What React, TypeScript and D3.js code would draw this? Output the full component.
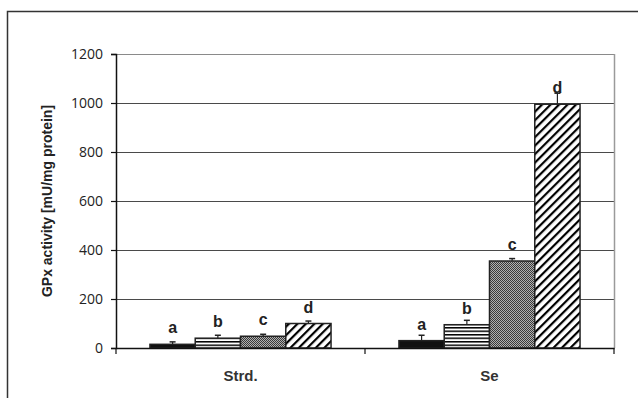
import React, { useEffect, useRef } from "react";
import * as d3 from "d3";

// chart data
const groups = ["Strd.", "Se"];
const treatments = ["t1", "t2", "t3", "t4"];
const letters = ["a", "b", "c", "d"];
const strdValues = [15, 40, 48, 100];
const strdErrors = [10, 12, 8, 10];
const seValues = [30, 95, 355, 995];
const seErrors = [22, 18, 10, 45];
const yTicks = [0, 200, 400, 600, 800, 1000, 1200];

const App = () => {
  const ref = useRef<SVGSVGElement>(null);

  useEffect(() => {
    document.body.style.margin = "0";
    const width = 638;
    const height = 398;
    const margin = { top: 54, right: 24, bottom: 50, left: 116 };
    const innerWidth = width - margin.left - margin.right;
    const innerHeight = height - margin.top - margin.bottom;

    const svg = d3.select(ref.current).attr("width", width).attr("height", height);
    svg.selectAll("*").remove();

    // patterns for the four treatments
    const defs = svg.append("defs");
    const stripes = defs.append("pattern").attr("id", "p-stripes")
      .attr("patternUnits", "userSpaceOnUse").attr("width", 4).attr("height", 3.5);
    stripes.append("rect").attr("width", 4).attr("height", 3.5).attr("fill", "#fff");
    stripes.append("rect").attr("width", 4).attr("height", 1.5).attr("fill", "#000");

    const dots = defs.append("pattern").attr("id", "p-dots")
      .attr("patternUnits", "userSpaceOnUse").attr("width", 2).attr("height", 2);
    dots.append("rect").attr("width", 2).attr("height", 2).attr("fill", "#b0b0b0");
    dots.append("rect").attr("width", 1).attr("height", 1).attr("fill", "#3a3a3a");
    dots.append("rect").attr("x", 1).attr("y", 1).attr("width", 1).attr("height", 1).attr("fill", "#3a3a3a");

    const hatch = defs.append("pattern").attr("id", "p-hatch")
      .attr("patternUnits", "userSpaceOnUse").attr("width", 6).attr("height", 6)
      .attr("patternTransform", "rotate(45)");
    hatch.append("rect").attr("width", 6).attr("height", 6).attr("fill", "#fff");
    hatch.append("rect").attr("width", 2.2).attr("height", 6).attr("fill", "#000");

    const fills = ["#111", "url(#p-stripes)", "url(#p-dots)", "url(#p-hatch)"];

    // outer frame (left and top edges visible)
    svg.append("path").attr("d", `M7.5,${height} V11.5 H${width}`)
      .attr("fill", "none").attr("stroke", "#333").attr("stroke-width", 1.5);

    const g = svg.append("g").attr("transform", `translate(${margin.left},${margin.top})`);

    const x0 = d3.scaleBand().domain(groups).range([0, innerWidth]);
    const x1 = d3.scaleBand().domain(treatments)
      .range([0, x0.bandwidth()]).paddingOuter(0.75).paddingInner(0);
    const y = d3.scaleLinear().domain([0, 1200]).range([innerHeight, 0]);

    // gridlines
    g.selectAll(".grid").data(yTicks.slice(1)).join("line").attr("class", "grid")
      .attr("x1", 0).attr("x2", innerWidth)
      .attr("y1", d => Math.round(y(d)) + 0.5).attr("y2", d => Math.round(y(d)) + 0.5)
      .attr("stroke", d => (d === 1200 ? "#8a8a8a" : "#4a4a4a")).attr("stroke-width", 1);
    g.append("line").attr("x1", innerWidth + 0.5).attr("x2", innerWidth + 0.5)
      .attr("y1", y(1200)).attr("y2", innerHeight)
      .attr("stroke", "#9a9a9a").attr("stroke-width", 1.5);

    const rows = groups.map((grp, gi) => {
      const vals = gi === 0 ? strdValues : seValues;
      const errs = gi === 0 ? strdErrors : seErrors;
      return treatments.map((t, i) => ({ grp, t, i, v: vals[i], e: errs[i] }));
    }).flat();

    // error bars (drawn behind the bars, upward only)
    const eb = g.selectAll(".err").data(rows).join("g").attr("class", "err");
    eb.append("line")
      .attr("x1", d => x0(d.grp)! + x1(d.t)! + x1.bandwidth() / 2)
      .attr("x2", d => x0(d.grp)! + x1(d.t)! + x1.bandwidth() / 2)
      .attr("y1", d => y(d.v)).attr("y2", d => y(d.v + d.e))
      .attr("stroke", "#222").attr("stroke-width", 1.2);
    eb.append("line")
      .attr("x1", d => x0(d.grp)! + x1(d.t)! + x1.bandwidth() / 2 - 3)
      .attr("x2", d => x0(d.grp)! + x1(d.t)! + x1.bandwidth() / 2 + 3)
      .attr("y1", d => y(d.v + d.e)).attr("y2", d => y(d.v + d.e))
      .attr("stroke", "#222").attr("stroke-width", 1.5);

    // bars
    g.selectAll(".bar").data(rows).join("rect").attr("class", "bar")
      .attr("x", d => x0(d.grp)! + x1(d.t)!)
      .attr("y", d => y(d.v))
      .attr("width", x1.bandwidth())
      .attr("height", d => innerHeight - y(d.v))
      .attr("fill", d => fills[d.i])
      .attr("stroke", "#222").attr("stroke-width", 1.5);

    // significance letters
    g.selectAll(".lbl").data(rows).join("text").attr("class", "lbl")
      .attr("x", d => x0(d.grp)! + x1(d.t)! + x1.bandwidth() / 2)
      .attr("y", d => y(d.v) - 11)
      .attr("text-anchor", "middle")
      .style("font-family", "'Liberation Sans', Arial, sans-serif")
      .style("font-weight", "bold").style("font-size", "16px").attr("fill", "#222")
      .text(d => letters[d.i]);

    // y axis
    const yAxis = g.append("g")
      .call(d3.axisLeft(y).tickValues(yTicks).tickFormat(d3.format("d")).tickSize(5).tickPadding(8));
    yAxis.select(".domain").attr("stroke", "#111").attr("stroke-width", 1.5);
    yAxis.selectAll(".tick line").attr("stroke", "#111").attr("stroke-width", 1.2);
    yAxis.selectAll(".tick text").style("font-family", "'Open Sans', sans-serif")
      .style("font-size", "14px").attr("fill", "#222");

    // x axis
    const xAxis = g.append("g").attr("transform", `translate(0,${innerHeight})`)
      .call(d3.axisBottom(x0).tickSize(0).tickPadding(22));
    xAxis.select(".domain").attr("stroke", "#111").attr("stroke-width", 1.5);
    xAxis.selectAll(".tick text").style("font-family", "'Liberation Sans', Arial, sans-serif")
      .style("font-weight", "bold").style("font-size", "15px").attr("fill", "#333");
    xAxis.selectAll(".xt").data([0, innerWidth / 2, innerWidth]).join("line").attr("class", "xt")
      .attr("x1", d => d).attr("x2", d => d).attr("y1", 0).attr("y2", 6)
      .attr("stroke", "#111").attr("stroke-width", 1.2);

    // y axis title
    g.append("text")
      .attr("transform", `translate(${47 - margin.left},${innerHeight / 2}) rotate(-90)`)
      .attr("text-anchor", "middle").attr("dominant-baseline", "central")
      .style("font-family", "'Liberation Sans', Arial, sans-serif")
      .style("font-weight", "bold").style("font-size", "14px").attr("fill", "#222")
      .text("GPx activity [mU/mg protein]");
  }, []);

  return <svg ref={ref} style={{ display: "block", background: "#fff" }} />;
};

export default App;
